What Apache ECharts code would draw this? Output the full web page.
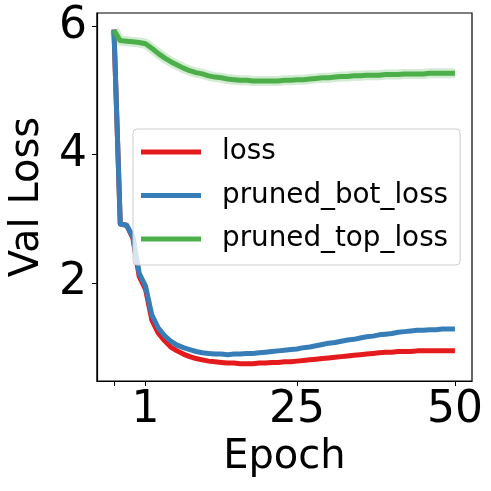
<!DOCTYPE html>
<html><head><meta charset="utf-8">
<script src="https://cdn.jsdelivr.net/npm/echarts@6/dist/echarts.min.js"></script>
<style>html,body{margin:0;padding:0;background:#fff}#c{width:491px;height:491px}</style>
</head><body><div id="c"></div>
<script>
// x positions are step indices; index 5 is epoch 1
var tickPositions = [0, 5, 29, 54];
var tickLabels = ['', '1', '25', '50'];
var yTicks = [2, 4, 6];

var loss = [5.95,2.92,2.90,2.70,2.10,1.90,1.42,1.22,1.10,1.00,0.94,0.89,0.85,0.82,0.80,0.78,0.77,0.76,0.75,0.75,0.74,0.74,0.74,0.75,0.75,0.76,0.76,0.77,0.77,0.78,0.79,0.80,0.81,0.82,0.83,0.84,0.85,0.86,0.87,0.88,0.89,0.90,0.91,0.92,0.92,0.93,0.93,0.93,0.94,0.94,0.94,0.94,0.94,0.94,0.94];
var prunedBot = [5.95,2.92,2.90,2.72,2.15,1.95,1.50,1.30,1.18,1.09,1.03,0.99,0.96,0.93,0.91,0.90,0.89,0.89,0.88,0.89,0.89,0.90,0.90,0.91,0.92,0.93,0.94,0.95,0.96,0.97,0.99,1.00,1.02,1.04,1.06,1.07,1.09,1.11,1.12,1.14,1.16,1.17,1.19,1.20,1.21,1.23,1.24,1.25,1.26,1.26,1.27,1.27,1.28,1.28,1.28];
var prunedTop = [5.94,5.78,5.77,5.76,5.75,5.73,5.66,5.58,5.51,5.45,5.40,5.35,5.31,5.28,5.26,5.23,5.21,5.20,5.18,5.17,5.16,5.16,5.15,5.15,5.15,5.15,5.15,5.16,5.16,5.17,5.17,5.18,5.19,5.20,5.20,5.21,5.22,5.22,5.23,5.23,5.24,5.24,5.24,5.25,5.25,5.25,5.26,5.26,5.26,5.26,5.27,5.27,5.27,5.27,5.27];

function pts(arr){ return arr.map(function(v,i){ return [i, v]; }); }

var FONT = 'DejaVu Sans';
var chart = echarts.init(document.getElementById('c'), null, {renderer:'canvas'});
var lineBase = {type:'line', showSymbol:false, symbol:'none', smooth:false, animation:false};
chart.setOption({
  backgroundColor:'#fff',
  animation:false,
  grid:{left:94, right:19, top:13, bottom:110, show:true, borderColor:'#000', borderWidth:1.2, backgroundColor:'transparent'},
  legend:{
    data:['loss','pruned_bot_loss','pruned_top_loss'],
    left:133, top:129, orient:'vertical',
    icon:'rect', itemWidth:60, itemHeight:5, itemGap:15.5,
    padding:[9,12,12,8],
    borderColor:'#cccccc', borderWidth:1, borderRadius:4,
    backgroundColor:'rgba(255,255,255,0.8)',
    textStyle:{fontFamily:FONT, fontSize:27.8, color:'#000', lineHeight:28, padding:[0,0,0,16]}
  },
  xAxis:{
    type:'value', min:-2.7, max:56.7,
    name:'Epoch', nameLocation:'middle', nameGap:52,
    nameTextStyle:{fontFamily:FONT, fontSize:40, color:'#000'},
    axisLine:{show:true, onZero:false, lineStyle:{color:'#000', width:1.2}},
    axisTick:{show:true, inside:false, length:5, lineStyle:{color:'#000', width:1}, customValues:tickPositions},
    axisLabel:{fontFamily:FONT, fontSize:44, color:'#000', margin:8, customValues:tickPositions,
      formatter:function(v){ var k = tickPositions.indexOf(v); return k>=0 ? tickLabels[k] : ''; }},
    splitLine:{show:false}
  },
  yAxis:{
    type:'value', min:0.47, max:6.21,
    name:'Val Loss', nameLocation:'middle', nameGap:42, nameRotate:90,
    nameTextStyle:{fontFamily:FONT, fontSize:40, color:'#000'},
    axisLine:{show:true, onZero:false, lineStyle:{color:'#000', width:1.2}},
    axisTick:{show:true, inside:false, length:5, lineStyle:{color:'#000', width:1}, customValues:yTicks},
    axisLabel:{fontFamily:FONT, fontSize:44, color:'#000', margin:10, customValues:yTicks,
      formatter:function(v){ return String(v); }},
    splitLine:{show:false}
  },
  series:[
    Object.assign({}, lineBase, {name:'loss', data:pts(loss), z:2,
      lineStyle:{color:'#e41a1c', width:5, join:'round'}, itemStyle:{color:'#e41a1c'}}),
    Object.assign({}, lineBase, {name:'pruned_bot_loss', data:pts(prunedBot), z:3,
      lineStyle:{color:'#377eb8', width:5, join:'round'}, itemStyle:{color:'#377eb8'}}),
    Object.assign({}, lineBase, {name:'pruned_top_loss_band', data:pts(prunedTop), z:3, silent:true,
      lineStyle:{color:'rgba(77,175,74,0.25)', width:10, join:'round'}}),
    Object.assign({}, lineBase, {name:'pruned_top_loss', data:pts(prunedTop), z:4,
      lineStyle:{color:'#4daf4a', width:5, join:'round'}, itemStyle:{color:'#4daf4a'}})
  ]
});
</script></body></html>
